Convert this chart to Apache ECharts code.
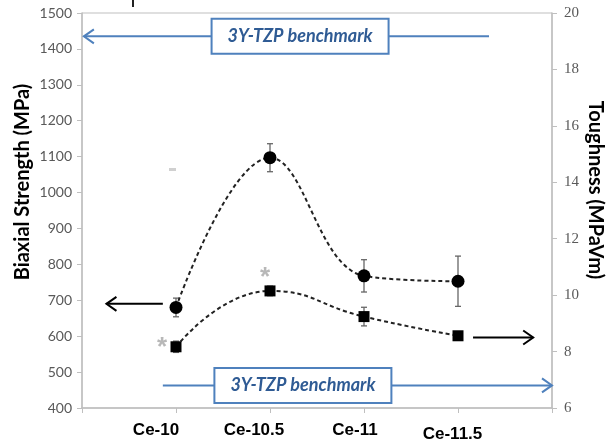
<!DOCTYPE html>
<html>
<head>
<meta charset="utf-8">
<script src="https://cdn.jsdelivr.net/npm/echarts@6/dist/echarts.min.js"></script>
<style>
  html, body { margin: 0; padding: 0; background: #fff; }
  #chart { width: 606px; height: 443px; }
</style>
</head>
<body>
<div id="chart"></div>
<script>
// Ce-TZP compositions on the x axis (placed at positions 1..4)
const categories = ['Ce-10', 'Ce-10.5', 'Ce-11', 'Ce-11.5'];

// Biaxial strength (MPa), left axis, with standard deviations
const strength = [680, 1097, 768, 753];
const strengthErr = [26, 39, 45, 70];

// Fracture toughness (MPa√m), right axis, with standard deviations
const toughness = [8.17, 10.15, 9.24, 8.56];
const toughnessErr = [0.2, 0.17, 0.33, 0.12];

// Toughness points flagged with a significance asterisk
const flagged = [0, 1];

// Reference levels for 3Y-TZP
const benchStrength = 1435;
const benchToughness = 6.8;
const benchLabel = '3Y-TZP benchmark';

// Axis ranges
const strengthAxis = { min: 400, max: 1500, step: 100 };
const toughnessAxis = { min: 6, max: 20, step: 2 };

const chart = echarts.init(document.getElementById('chart'), null, { renderer: 'canvas' });

const axisGray = '#bfbfbf';
const labelGray = '#595959';
const blue = '#4f81bd';
const blueText = '#2f5b94';

const pts = (vals) => vals.map((v, i) => [i + 1, v]);

function errorBars(vals, errs, yIdx, color) {
  return {
    type: 'custom',
    yAxisIndex: yIdx,
    z: 3,
    silent: true,
    data: vals.map((v, i) => [i + 1, v - errs[i], v + errs[i]]),
    renderItem: (params, api) => {
      const lo = api.coord([api.value(0), api.value(1)]);
      const hi = api.coord([api.value(0), api.value(2)]);
      const w = 3;
      const st = { stroke: color, lineWidth: 1.3 };
      return {
        type: 'group',
        children: [
          { type: 'line', shape: { x1: lo[0], y1: lo[1], x2: hi[0], y2: hi[1] }, style: st },
          { type: 'line', shape: { x1: lo[0] - w, y1: lo[1], x2: lo[0] + w, y2: lo[1] }, style: st },
          { type: 'line', shape: { x1: hi[0] - w, y1: hi[1], x2: hi[0] + w, y2: hi[1] }, style: st }
        ]
      };
    }
  };
}

// per-label horizontal shift of the category names
const labelRich = {
  l0: { padding: [0, 40, 0, 0] },
  l1: { padding: [0, 32, 0, 0] },
  l2: { padding: [0, 18, 0, 0] },
  l3: { padding: [4, 11, 0, 0] }
};
Object.values(labelRich).forEach(s => Object.assign(s, {
  fontFamily: 'Liberation Sans, Arial, sans-serif', fontWeight: 'bold', fontSize: 17, color: '#000'
}));

const flagOffsets = [[-14, 1], [-5, -13]];

const titleStyle = { fontFamily: 'Lato, sans-serif', fontWeight: 'bold', fontSize: 20, color: '#000' };

chart.setOption({
  animation: false,
  backgroundColor: '#fff',
  grid: { left: 82, right: 54, top: 13, bottom: 34, show: true, borderColor: axisGray, borderWidth: 1 },
  xAxis: {
    type: 'value',
    min: 0, max: 5, interval: 1,
    splitLine: { show: false },
    axisLine: { lineStyle: { color: axisGray, width: 1.5 } },
    axisTick: { length: 5, lineStyle: { color: axisGray } },
    axisLabel: {
      margin: 14,
      formatter: (v) => (v >= 1 && v <= categories.length) ? `{l${v - 1}|${categories[v - 1]}}` : '',
      rich: labelRich
    }
  },
  yAxis: [
    {
      type: 'value',
      min: strengthAxis.min, max: strengthAxis.max, interval: strengthAxis.step,
      splitLine: { show: false },
      axisLine: { show: true, lineStyle: { color: axisGray, width: 1.5 } },
      axisTick: { show: true, length: 5, lineStyle: { color: axisGray } },
      axisLabel: { margin: 10, fontFamily: 'Lato, sans-serif', fontSize: 14, color: labelGray,
                   formatter: (v) => String(v) }
    },
    {
      type: 'value',
      position: 'right',
      min: toughnessAxis.min, max: toughnessAxis.max, interval: toughnessAxis.step,
      splitLine: { show: false },
      axisLine: { show: true, lineStyle: { color: axisGray, width: 1.5 } },
      axisTick: { show: true, length: 5, lineStyle: { color: axisGray } },
      axisLabel: { margin: 12, fontFamily: 'Liberation Serif, serif', fontSize: 15, color: labelGray }
    }
  ],
  series: [
    errorBars(strength, strengthErr, 0, '#666'),
    errorBars(toughness, toughnessErr, 1, '#666'),
    {
      name: 'Biaxial strength',
      type: 'line',
      yAxisIndex: 0,
      z: 4,
      smooth: 0.4,
      data: pts(strength),
      symbol: 'circle',
      symbolSize: 13,
      itemStyle: { color: '#000' },
      lineStyle: { color: '#222', width: 2, type: [4, 3] }
    },
    {
      name: 'Toughness',
      type: 'line',
      yAxisIndex: 1,
      z: 4,
      smooth: 0.5,
      data: pts(toughness),
      symbol: 'rect',
      symbolSize: 11,
      itemStyle: { color: '#000' },
      lineStyle: { color: '#222', width: 2, type: [4, 3] }
    },
    {
      name: 'Significance',
      type: 'scatter',
      yAxisIndex: 1,
      z: 5,
      symbolSize: 0,
      silent: true,
      data: flagged.map((i, k) => ({
        value: [i + 1, toughness[i]],
        label: { offset: flagOffsets[k] }
      })),
      label: {
        show: true,
        formatter: '*',
        position: 'inside',
        fontFamily: 'Liberation Sans, Arial, sans-serif',
        fontSize: 26,
        fontWeight: 'bold',
        color: '#a6a6a6'
      }
    }
  ]
});

// Annotation graphics: axis titles, benchmark arrows with boxed labels, and axis pointers
const P = (x, y, axis) => chart.convertToPixel({ xAxisIndex: 0, yAxisIndex: axis }, [x, y]);

function chevron(tip, dir, color, width) {
  const len = 10, half = 7;
  return {
    type: 'polyline',
    shape: { points: [[tip[0] - dir * len, tip[1] - half], tip, [tip[0] - dir * len, tip[1] + half]] },
    style: { stroke: color, lineWidth: width, fill: null }
  };
}

function benchmark(xFrom, xTo, xBox, value, axis, arrowAtStart) {
  const a = P(xFrom, value, axis), b = P(xTo, value, axis), c = P(xBox, value, axis);
  const bw = 177, bh = 35;
  return [
    { type: 'line', shape: { x1: a[0], y1: a[1], x2: b[0], y2: b[1] }, style: { stroke: blue, lineWidth: 2 } },
    chevron(arrowAtStart ? a : b, arrowAtStart ? -1 : 1, blue, 2),
    { type: 'rect', shape: { x: c[0] - bw / 2, y: c[1] - bh / 2, width: bw, height: bh },
      style: { fill: '#fff', stroke: blue, lineWidth: 2 } },
    { type: 'text', x: c[0], y: c[1],
      style: { text: benchLabel, align: 'center', verticalAlign: 'middle',
               font: 'italic bold 18px Lato, sans-serif', fill: blueText } }
  ];
}

function pointer(xFrom, xTo, value, axis) {
  const a = P(xFrom, value, axis), b = P(xTo, value, axis);
  const dir = xTo > xFrom ? 1 : -1;
  return [
    { type: 'line', shape: { x1: a[0], y1: a[1], x2: b[0], y2: b[1] }, style: { stroke: '#000', lineWidth: 2 } },
    chevron(b, dir, '#000', 2)
  ];
}

function axisTitle(text, x, y, rotation) {
  return {
    type: 'text', x: x, y: y, rotation: rotation,
    style: { text: text, align: 'center', verticalAlign: 'middle',
             font: `bold ${titleStyle.fontSize}px ${titleStyle.fontFamily}`, fill: titleStyle.color }
  };
}

const elements = [].concat(
  benchmark(0.02, 4.33, 2.32, benchStrength, 0, true),
  benchmark(0.86, 5.0, 2.35, benchToughness, 1, false),
  pointer(0.86, 0.26, 690, 0),
  pointer(4.16, 4.8, 8.5, 1),
  [
    axisTitle('Biaxial Strength (MPa)', 23, 182, Math.PI / 2),
    axisTitle('Toughness (MPaVm)', 595, 190, -Math.PI / 2),
    { type: 'rect', shape: { x: 169, y: 168, width: 7, height: 3 }, style: { fill: '#d0d0d0' } },
    { type: 'rect', shape: { x: 132, y: 0, width: 2, height: 7 }, style: { fill: '#222' } }
  ]
);
chart.setOption({ graphic: { elements: elements.map(e => Object.assign({ z: 10 }, e)) } });
</script>
</body>
</html>
